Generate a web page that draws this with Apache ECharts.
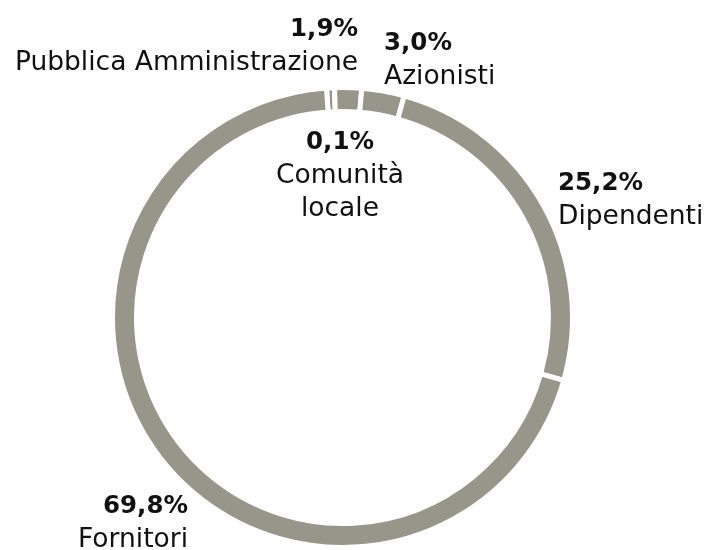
<!DOCTYPE html>
<html>
<head>
<meta charset="utf-8">
<script src="https://cdn.jsdelivr.net/npm/echarts@6/dist/echarts.min.js"></script>
<style>html,body{margin:0;padding:0;background:#fff;}#c{width:705px;height:550px;}</style>
</head>
<body>
<div id="c"></div>
<script>
// Data
var categories = ['Comunità\nlocale', 'Pubblica Amministrazione', 'Azionisti', 'Dipendenti', 'Fornitori'];
var values = [0.1, 1.9, 3.0, 25.2, 69.8];

// Label placement (layout only)
var labelPos = [
  {x: 340, y: 126, align: 'center'},
  {x: 358, y: 13, align: 'right'},
  {x: 384, y: 27, align: 'left'},
  {x: 558, y: 167, align: 'left'},
  {x: 188, y: 490, align: 'right'}
];

var chart = echarts.init(document.getElementById('c'), null, {renderer: 'canvas'});
var fontFam = '"DejaVu Sans", sans-serif';
chart.setOption({
  animation: false,
  series: [{
    type: 'pie',
    center: [342.5, 317.5],
    radius: [206, 230],
    startAngle: 94,
    clockwise: true,
    minAngle: 2,
    avoidLabelOverlap: false,
    itemStyle: {color: '#96968b', borderColor: '#ffffff', borderWidth: 5},
    emphasis: {disabled: true},
    labelLine: {show: false},
    label: {
      show: true,
      position: 'outside',
      formatter: function (p) {
        var v = values[p.dataIndex].toFixed(1).replace('.', ',') + '%';
        var lines = categories[p.dataIndex].split('\n').map(function (s) { return '{n|' + s + '}'; });
        return '{p|' + v + '}\n' + lines.join('\n');
      },
      rich: {
        p: {fontFamily: fontFam, fontSize: 24.5, fontWeight: 'bold', color: '#111111', lineHeight: 34},
        n: {fontFamily: fontFam, fontSize: 26.5, fontWeight: 'normal', color: '#111111', lineHeight: 33}
      }
    },
    labelLayout: function (params) {
      var lp = labelPos[params.dataIndex];
      return {x: lp.x, y: lp.y, align: lp.align, verticalAlign: 'top'};
    },
    data: categories.map(function (c, i) { return {name: c, value: values[i]}; })
  }]
});
</script>
</body>
</html>
